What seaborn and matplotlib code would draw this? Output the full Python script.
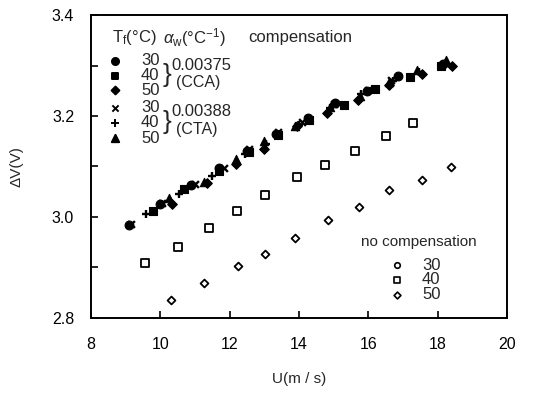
import matplotlib
matplotlib.use("Agg")
import matplotlib.pyplot as plt
import seaborn as sns
import numpy as np

# ---- data ----
cca30_u = [9.1, 10.0, 10.9, 11.7, 12.5, 13.35, 14.25, 15.05, 15.95, 16.85, 18.15]
cca30_v = [2.985, 3.025, 3.064, 3.097, 3.130, 3.165, 3.197, 3.225, 3.250, 3.280, 3.302]
cca40_u = [9.8, 10.7, 11.7, 12.55, 13.4, 14.3, 15.3, 16.2, 17.2, 18.1]
cca40_v = [3.012, 3.055, 3.092, 3.128, 3.162, 3.192, 3.222, 3.253, 3.277, 3.300]
cca50_u = [10.35, 11.35, 12.2, 13.0, 13.95, 14.8, 15.7, 16.6, 17.55, 18.4]
cca50_v = [3.025, 3.068, 3.105, 3.135, 3.180, 3.205, 3.232, 3.262, 3.283, 3.300]
cta30_u = [9.15, 10.05, 11.0, 11.85, 12.55, 13.4, 14.1, 15.0, 16.0, 16.65]
cta30_v = [2.987, 3.028, 3.066, 3.098, 3.135, 3.168, 3.188, 3.223, 3.252, 3.272]
cta40_u = [9.6, 10.55, 11.5, 12.45, 13.05, 14.0, 14.9, 15.8, 16.7, 17.45]
cta40_v = [3.005, 3.045, 3.082, 3.125, 3.145, 3.183, 3.215, 3.243, 3.270, 3.288]
cta50_u = [10.25, 11.25, 12.2, 13.0, 13.9, 14.9, 15.75, 16.6, 17.4, 18.25]
cta50_v = [3.038, 3.070, 3.115, 3.150, 3.180, 3.218, 3.240, 3.268, 3.292, 3.310]
# no compensation (30 degC coincides with compensated curve, hidden under it)
nc30_u = cca30_u
nc30_v = cca30_v
nc40_u = [9.56, 10.50, 11.40, 12.21, 13.02, 13.93, 14.75, 15.63, 16.51, 17.29]
nc40_v = [2.908, 2.941, 2.979, 3.012, 3.043, 3.079, 3.102, 3.130, 3.161, 3.186]
nc50_u = [10.31, 11.25, 12.23, 13.01, 13.88, 14.85, 15.72, 16.60, 17.56, 18.38]
nc50_v = [2.835, 2.869, 2.902, 2.927, 2.959, 2.994, 3.020, 3.053, 3.073, 3.099]

x_ticks = [8, 10, 12, 14, 16, 18, 20]
y_ticks = [2.8, 2.9, 3.0, 3.1, 3.2, 3.3, 3.4]
y_labels = ["2.8", "", "3.0", "", "3.2", "", "3.4"]
temps = ["30", "40", "50"]

sns.set_style("ticks")
plt.rcParams["font.family"] = ["Liberation Sans", "DejaVu Sans"]
plt.rcParams["mathtext.fontset"] = "custom"
plt.rcParams["mathtext.rm"] = "Liberation Sans"
plt.rcParams["mathtext.it"] = "Liberation Sans:italic"

fig = plt.figure(figsize=(5.47, 3.95), dpi=100)
ax = fig.add_axes([0.166, 0.195, 0.761, 0.767])

filled = dict(color="black", edgecolor="black", linewidth=0.8, legend=False, ax=ax)
sns.scatterplot(x=nc30_u, y=nc30_v, marker="o", s=22, facecolor="white",
                edgecolor="black", linewidth=1.0, legend=False, ax=ax, zorder=1)
sns.scatterplot(x=cca30_u, y=cca30_v, marker="o", s=40, zorder=3, **filled)
sns.scatterplot(x=cca40_u, y=cca40_v, marker="s", s=32, zorder=3, **filled)
sns.scatterplot(x=cca50_u, y=cca50_v, marker="D", s=24, zorder=3, **filled)
sns.scatterplot(x=cta30_u, y=cta30_v, marker="x", s=24, color="black",
                linewidth=1.7, legend=False, ax=ax, zorder=3)
sns.scatterplot(x=cta40_u, y=cta40_v, marker="+", s=34, color="black",
                linewidth=1.7, legend=False, ax=ax, zorder=3)
sns.scatterplot(x=cta50_u, y=cta50_v, marker="^", s=36, zorder=3, **filled)
sns.scatterplot(x=nc40_u, y=nc40_v, marker="s", s=26, facecolor="white",
                edgecolor="black", linewidth=1.3, legend=False, ax=ax, zorder=3)
sns.scatterplot(x=nc50_u, y=nc50_v, marker="D", s=16, facecolor="white",
                edgecolor="black", linewidth=1.3, legend=False, ax=ax, zorder=3)

ax.set_xlim(8, 20)
ax.set_ylim(2.8, 3.4)
ax.set_xticks(x_ticks)
ax.set_yticks(y_ticks)
ax.set_yticklabels(y_labels)
ax.tick_params(direction="in", length=5, width=1.2, labelsize=11.5, colors="black")
ax.tick_params(axis="x", pad=14)
ax.tick_params(axis="y", pad=12)
for sp in ax.spines.values():
    sp.set_linewidth(1.4)
    sp.set_color("black")
ax.set_xlabel("U(m / s)", fontsize=11, labelpad=14)
ax.set_ylabel("ΔV(V)", fontsize=11, labelpad=20)

# ---- hand-made legend (as in the original figure) ----
fs = 11
ax.text(8.62, 3.355, r"T$_{\rm f}$(°C)", fontsize=12, va="center", ha="left")
ax.text(10.07, 3.355, r"$\alpha_{\rm w}$(°C$^{-1}$)", fontsize=12, va="center", ha="left")
ax.text(12.53, 3.355, "compensation", fontsize=12, va="center", ha="left")

leg_y = [3.309, 3.280, 3.251, 3.216, 3.187, 3.156]
leg_m = ["o", "s", "D", "x", "+", "^"]
leg_s = [26, 24, 16, 20, 28, 28]
for yy, mk, ss, tt in zip(leg_y, leg_m, leg_s, temps * 2):
    ax.scatter([8.71], [yy], marker=mk, s=ss, color="black", linewidths=1.4)
    ax.text(9.45, yy, tt, fontsize=12, va="center", ha="left")
ax.text(10.08, 3.282, "}", fontsize=19, va="center", ha="left")
ax.text(10.08, 3.189, "}", fontsize=19, va="center", ha="left")
ax.text(10.33, 3.300, "0.00375", fontsize=12, va="center", ha="left")
ax.text(10.45, 3.267, "(CCA)", fontsize=11.5, va="center", ha="left")
ax.text(10.33, 3.208, "0.00388", fontsize=12, va="center", ha="left")
ax.text(10.45, 3.173, "(CTA)", fontsize=11.5, va="center", ha="left")

ax.text(15.8, 2.950, "no compensation", fontsize=fs, va="center", ha="left")
nc_y = [2.904, 2.876, 2.846]
nc_m = ["o", "s", "D"]
nc_s = [16, 16, 12]
for yy, mk, ss, tt in zip(nc_y, nc_m, nc_s, temps):
    ax.scatter([16.83], [yy], marker=mk, s=ss, facecolor="white",
               edgecolor="black", linewidths=1.2)
    ax.text(17.55, yy, tt, fontsize=12, va="center", ha="left")

fig.savefig("out.png", dpi=100)
